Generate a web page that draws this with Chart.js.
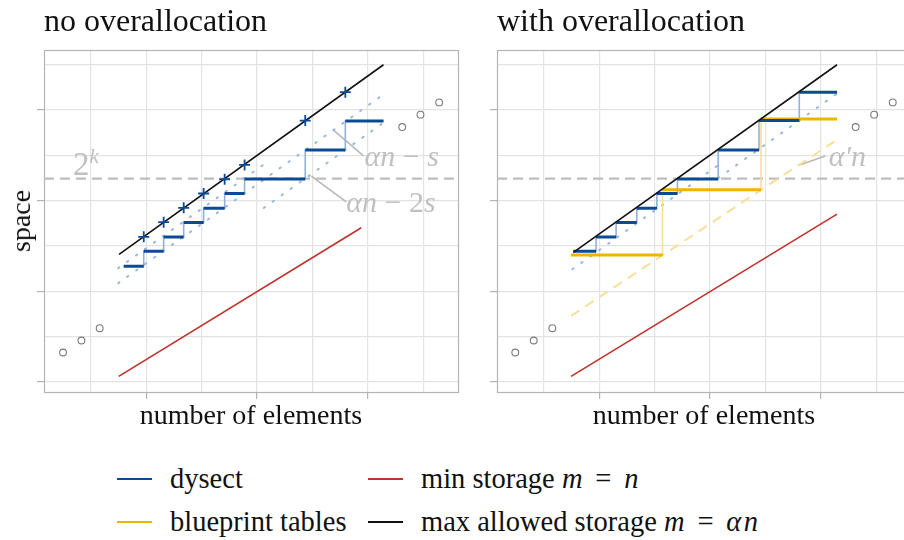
<!DOCTYPE html>
<html>
<head>
<meta charset="utf-8">
<script src="https://cdn.jsdelivr.net/npm/chart.js@4.4.1/dist/chart.umd.min.js"></script>
<style>
  html, body { margin: 0; padding: 0; background: #fff; width: 904px; height: 540px; overflow: hidden; }
  #wrap { position: relative; width: 904px; height: 540px; font-family: "Liberation Serif", "DejaVu Serif", serif; color: #111; }
  canvas { position: absolute; top: 0; }
  .txt { position: absolute; white-space: nowrap; line-height: 1; }
  .sw { position: absolute; height: 2px; width: 35px; }
  .eq { margin: 0 0.2em; }
</style>
</head>
<body>
<div id="wrap">
  <canvas id="panelA" width="470" height="410" style="left:0px;width:470px;height:410px"></canvas>
  <canvas id="panelB" width="470" height="410" style="left:453px;width:470px;height:410px"></canvas>
  <div class="txt" style="left:44px;top:4px;font-size:32px">no overallocation</div>
  <div class="txt" style="left:497px;top:4px;font-size:32px">with overallocation</div>
  <div class="txt" style="left:251px;top:401px;font-size:28px;transform:translateX(-50%)">number of elements</div>
  <div class="txt" style="left:704px;top:401px;font-size:28px;transform:translateX(-50%)">number of elements</div>
  <div class="txt" style="left:21px;top:221px;font-size:28px;transform:translate(-50%,-50%) rotate(-90deg)">space</div>
  <div id="legend"></div>
</div>
<script>
// shared axis window (both panels use the same scale)
const X_MIN = 0.075, X_MAX = 3.815;
const Y_MIN = -0.11, Y_MAX = 3.663;
const GRID_STEP = 0.5;
const TWO_K = 2.244;             // table size 2^k

// colours
const BLUE = '#0c4a94';
const BLUE_LIGHT = '#93b2da';
const BLUE_DOT = '#9ab6de';
const YELLOW = '#efb300';
const YELLOW_LIGHT = '#f8df98';
const RED = '#c1312c';
const BLACK = '#111111';
const HINT = '#bdbdbd';
const HINT_TEXT = '#c0c0c0';
const OUTLIER = '#7a7a7a';
const GRID = '#e3e3e3';
const FRAME = '#b4b4b4';

// ---------- panel A: no overallocation ----------
const aMaxX = [0.753, 3.142];
const aMaxY = [1.409, 3.500];
const aMinX = [0.750, 2.941];
const aMinY = [0.062, 1.702];
const aOutX = [0.247, 0.413, 0.578, 3.311, 3.476, 3.645];
const aOutY = [0.326, 0.458, 0.594, 2.813, 2.950, 3.085];
const aGrowX = [0.976, 1.156, 1.337, 1.517, 1.707, 1.887, 2.435, 2.797];
const aGrowY = [1.602, 1.764, 1.922, 2.080, 2.237, 2.395, 2.884, 3.198];
const aStepX = [0.795, 0.976, 1.156, 1.337, 1.517, 1.707, 1.887, 2.435, 2.797, 3.142];
const aStepY = [1.277, 1.442, 1.599, 1.761, 1.918, 2.080, 2.241, 2.560, 2.879];
// αn − s / αn − 2s guides (segment size s doubles once 2^k is reached)
const aGuide1X = [0.745, 3.142], aGuide1Y = [1.090, 3.173];
const aGuide2X = [0.744, 2.095], aGuide2Y = [1.255, 2.430];
const aGuide3X = [2.060, 3.142], aGuide3Y = [1.920, 2.861];
// leader lines for the guide labels
const aLeader1X = [2.685, 2.962], aLeader1Y = [2.785, 2.494];
const aLeader2X = [2.490, 2.806], aLeader2Y = [2.271, 1.988];

// ---------- panel B: with overallocation ----------
const bMaxX = [0.765, 3.147];
const bMaxY = [1.431, 3.500];
const bMinX = [0.744, 3.147];
const bMinY = [0.062, 1.852];
const bOutX = [0.240, 0.407, 0.575, 3.315, 3.482, 3.650];
const bOutY = [0.326, 0.458, 0.594, 2.813, 2.950, 3.085];
const bStepX = [0.765, 0.970, 1.151, 1.338, 1.519, 1.705, 2.073, 2.442, 2.806, 3.147];
const bStepY = [1.442, 1.599, 1.761, 1.918, 2.080, 2.241, 2.560, 2.884, 3.198];
const bPrintX = [0.744, 1.570, 2.460, 3.147];
const bPrintY = [1.401, 2.120, 2.901];
const bAlphaPX = [0.744, 3.147], bAlphaPY = [0.730, 2.674];
const bGuide1X = [0.7555, 2.073], bGuide1Y = [1.244, 2.392];
const bGuide2X = [2.073, 3.147], bGuide2Y = [2.249, 3.182];
const bLeaderX = [2.800, 3.042], bLeaderY = [2.392, 2.494];

// legend entries
const legendItems = [
  { html: 'dysect', color: BLUE, col: 0, row: 0 },
  { html: 'min storage <i>m</i> <span class="eq">=</span> <i>n</i>', color: RED, col: 1, row: 0 },
  { html: 'blueprint tables', color: YELLOW, col: 0, row: 1 },
  { html: 'max allowed storage <i>m</i> <span class="eq">=</span> <i>α</i>&#8202;<i>n</i>', color: BLACK, col: 1, row: 1 }
];

// ---------- helpers ----------
const pts = (xs, ys) => xs.map((x, i) => ({ x, y: ys[i] }));
// staircase through breakpoints xs with levels ys (ys.length = xs.length - 1)
const stairPts = (xs, ys) => {
  const out = ys.map((y, i) => ({ x: xs[i], y }));
  out.push({ x: xs[xs.length - 1], y: ys[ys.length - 1] });
  return out;
};
// only the flat treads of the staircase, separated by gaps
const treadPts = (xs, ys) => {
  const out = [];
  ys.forEach((y, i) => {
    out.push({ x: xs[i], y }, { x: xs[i + 1], y });
    if (i < ys.length - 1) out.push({ x: xs[i + 1], y: null });
  });
  return out;
};
const line = (data, color, width, extra) => Object.assign({
  data, showLine: true, borderColor: color, borderWidth: width, pointRadius: 0,
  pointHoverRadius: 0, fill: false, tension: 0, spanGaps: false
}, extra || {});
const dotted = (xs, ys) => line(pts(xs, ys), BLUE_DOT, 2, { borderDash: [1.5, 9.5], borderCapStyle: 'round' });
const leader = (xs, ys) => line(pts(xs, ys), '#b8b8b8', 1.6);
const kLine = () => line(pts([X_MIN, X_MAX], [TWO_K, TWO_K]), HINT, 2.2, { borderDash: [10, 6] });
const outliers = (xs, ys) => ({
  data: pts(xs, ys), showLine: false, pointStyle: 'circle', pointRadius: 3.4,
  pointBorderColor: OUTLIER, pointBackgroundColor: 'rgba(0,0,0,0)', pointBorderWidth: 1.1
});

// frame around the plotting area
const framePlugin = {
  id: 'frame',
  beforeDatasetsDraw(chart) {
    const { ctx, chartArea: a } = chart;
    ctx.save();
    ctx.strokeStyle = FRAME;
    ctx.lineWidth = 1.2;
    ctx.strokeRect(Math.round(a.left) + 0.5, Math.round(a.top) + 0.5,
      Math.round(a.right - a.left), Math.round(a.bottom - a.top));
    ctx.restore();
  }
};

// text notes placed in data coordinates
const notePlugin = {
  id: 'notes',
  afterDatasetsDraw(chart, args, opts) {
    const { ctx, scales: { x, y } } = chart;
    ctx.save();
    ctx.textBaseline = 'alphabetic';
    (opts.items || []).forEach(note => {
      let px = x.getPixelForValue(note.x);
      const py = y.getPixelForValue(note.y);
      ctx.fillStyle = HINT_TEXT;
      note.runs.forEach(r => {
        ctx.font = r.font;
        ctx.fillText(r.text, px, py - (r.rise || 0));
        px += ctx.measureText(r.text).width + (r.gap || 0);
      });
    });
    ctx.restore();
  }
};

const IT = 'italic 30px "Liberation Serif"';
const UP = '30px "Liberation Serif"';

function axis(min, max) {
  return {
    type: 'linear', min, max,
    ticks: { display: false, stepSize: GRID_STEP, includeBounds: false },
    grid: {
      color: GRID, lineWidth: 1.2, drawTicks: true, tickLength: 7, tickWidth: 1.2,
      tickColor: c => (Math.abs(c.tick.value - Math.round(c.tick.value)) < 1e-6 ? FRAME : 'rgba(0,0,0,0)')
    },
    border: { display: false }
  };
}

function makeChart(id, datasets, notes) {
  return new Chart(document.getElementById(id), {
    type: 'scatter',
    data: { datasets },
    options: {
      responsive: false, animation: false, events: [],
      layout: { padding: { left: 37, right: 12, top: 50, bottom: 11 } },
      scales: { x: axis(X_MIN, X_MAX), y: axis(Y_MIN, Y_MAX) },
      plugins: { legend: { display: false }, tooltip: { enabled: false }, notes: { items: notes } }
    },
    plugins: [framePlugin, notePlugin]
  });
}

// datasets listed top-most first
makeChart('panelA', [
  { data: pts(aGrowX, aGrowY), showLine: false, pointStyle: 'cross', pointRadius: 5.5,
    pointBorderColor: BLUE, pointBorderWidth: 1.8 },
  line(pts(aMaxX, aMaxY), BLACK, 1.6),
  line(treadPts(aStepX, aStepY), BLUE, 3),
  line(stairPts(aStepX, aStepY), BLUE_LIGHT, 1.6, { stepped: 'before' }),
  line(pts(aMinX, aMinY), RED, 1.6),
  dotted(aGuide1X, aGuide1Y),
  dotted(aGuide2X, aGuide2Y),
  dotted(aGuide3X, aGuide3Y),
  leader(aLeader1X, aLeader1Y),
  leader(aLeader2X, aLeader2Y),
  outliers(aOutX, aOutY),
  kLine()
], [
  { x: 0.337, y: 2.282, runs: [{ text: '2', font: '33px "Liberation Serif"' }, { text: 'k', font: 'italic 21px "Liberation Serif"', rise: 12 }] },
  { x: 2.971, y: 2.381, runs: [{ text: 'αn', font: IT }, { text: ' − ', font: UP }, { text: 's', font: IT }] },
  { x: 2.806, y: 1.881, runs: [{ text: 'αn', font: IT }, { text: ' − 2', font: UP }, { text: 's', font: IT }] }
]);

makeChart('panelB', [
  line(pts(bMaxX, bMaxY), BLACK, 1.6),
  line(treadPts(bStepX, bStepY), BLUE, 3),
  line(treadPts(bPrintX, bPrintY), YELLOW, 3),
  line(stairPts(bStepX, bStepY), BLUE_LIGHT, 1.6, { stepped: 'before' }),
  line(stairPts(bPrintX, bPrintY), YELLOW_LIGHT, 1.6, { stepped: 'before' }),
  line(pts(bMinX, bMinY), RED, 1.6),
  dotted(bGuide1X, bGuide1Y),
  dotted(bGuide2X, bGuide2Y),
  line(pts(bAlphaPX, bAlphaPY), YELLOW_LIGHT, 2, { borderDash: [10, 7] }),
  leader(bLeaderX, bLeaderY),
  outliers(bOutX, bOutY),
  kLine()
], [
  { x: 3.071, y: 2.381, runs: [{ text: 'α′', font: IT }, { text: 'n', font: IT }] }
]);

// legend below both panels
const legendBox = document.getElementById('legend');
const colX = [117, 368], rowY = [479, 522];
legendItems.forEach(item => {
  const sw = document.createElement('div');
  sw.className = 'sw';
  sw.style.left = colX[item.col] + 'px';
  sw.style.top = (rowY[item.row] - 1) + 'px';
  sw.style.background = item.color;
  legendBox.appendChild(sw);
  const t = document.createElement('div');
  t.className = 'txt';
  t.style.fontSize = '28.5px';
  t.style.left = (colX[item.col] + 53) + 'px';
  t.style.top = (rowY[item.row] - 14) + 'px';
  t.innerHTML = item.html;
  legendBox.appendChild(t);
});
</script>
</body>
</html>
